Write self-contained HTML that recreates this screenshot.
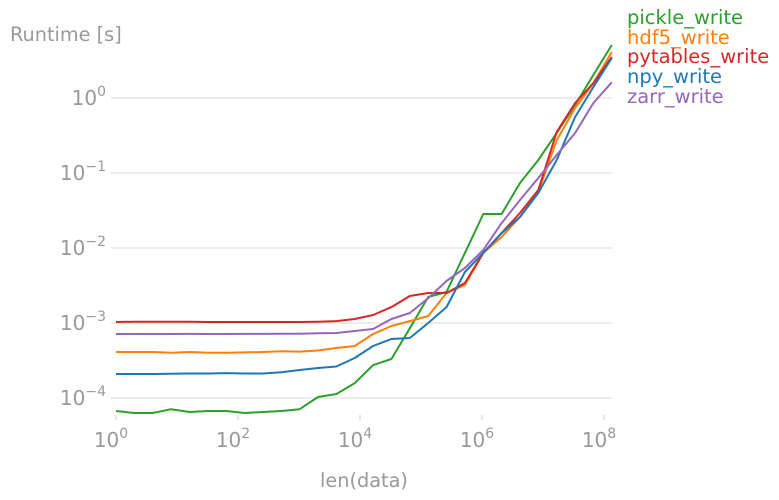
<!DOCTYPE html>
<html><head><meta charset="utf-8"><style>
html,body{margin:0;padding:0;background:#fff;}
svg{display:block;font-family:"DejaVu Sans","Liberation Sans",sans-serif;}
</style></head><body>
<svg id="chart" width="779" height="500">
<g id="grid"></g>
<g id="xticks"></g>
<g id="yticks"></g>
<g id="lines"></g>
<g id="legend"></g>
<text x="10" y="41" font-size="19.3" fill="#999">Runtime [s]</text>
<text x="364" y="487" font-size="19.3" fill="#999" text-anchor="middle">len(data)</text>
</svg>
<script>
const seriesNames = ["pickle_write","hdf5_write","pytables_write","npy_write","zarr_write"];
const seriesColors = ["#2ca02c","#ff7f0e","#d62728","#1f77b4","#9467bd"];
const nValues = [1,2,4,8,16,32,64,128,256,512,1024,2048,4096,8192,16384,32768,65536,131072,262144,524288,1048576,2097152,4194304,8388608,16777216,33554432,67108864,134217728];
const pickleWrite = [6.7e-5,6.3e-5,6.3e-5,7.1e-5,6.5e-5,6.7e-5,6.7e-5,6.3e-5,6.5e-5,6.7e-5,7.1e-5,1.03e-4,1.13e-4,1.58e-4,2.75e-4,3.31e-4,8.5e-4,2.22e-3,2.59e-3,8.6e-3,2.84e-2,2.84e-2,7.36e-2,0.149,0.341,0.806,2.03,5.09];
const hdf5Write = [4.1e-4,4.1e-4,4.1e-4,4.0e-4,4.1e-4,4.0e-4,4.0e-4,4.05e-4,4.1e-4,4.2e-4,4.15e-4,4.3e-4,4.64e-4,4.93e-4,7.13e-4,9.12e-4,1.06e-3,1.24e-3,2.51e-3,3.21e-3,8.6e-3,1.4e-2,2.59e-2,5.58e-2,0.275,0.736,1.58,4.1];
const pytablesWrite = [1.03e-3,1.04e-3,1.04e-3,1.04e-3,1.04e-3,1.03e-3,1.03e-3,1.03e-3,1.03e-3,1.03e-3,1.03e-3,1.04e-3,1.06e-3,1.13e-3,1.28e-3,1.63e-3,2.29e-3,2.51e-3,2.51e-3,3.41e-3,8.6e-3,1.58e-2,2.93e-2,5.93e-2,0.352,0.857,1.58,3.52];
const npyWrite = [2.09e-4,2.09e-4,2.09e-4,2.1e-4,2.12e-4,2.12e-4,2.15e-4,2.12e-4,2.12e-4,2.2e-4,2.36e-4,2.51e-4,2.63e-4,3.41e-4,4.93e-4,6.12e-4,6.31e-4,1.0e-3,1.63e-3,4.79e-3,8.6e-3,1.58e-2,2.59e-2,5.41e-2,0.149,0.558,1.4,3.41];
const zarrWrite = [7.13e-4,7.13e-4,7.13e-4,7.13e-4,7.15e-4,7.13e-4,7.13e-4,7.15e-4,7.15e-4,7.2e-4,7.2e-4,7.3e-4,7.36e-4,7.82e-4,8.32e-4,1.13e-3,1.36e-3,2.15e-3,3.63e-3,5.41e-3,9.4e-3,2.15e-2,4.37e-2,8.57e-2,0.174,0.341,0.857,1.62];
const xTickExps = [0,2,4,6,8];
const yTickExps = [0,-1,-2,-3,-4];

const NS="http://www.w3.org/2000/svg";
const allSeries=[pickleWrite,hdf5Write,pytablesWrite,npyWrite,zarrWrite];
function xs(v){return 116+Math.log10(v)*61.0;}
function ys(v){return 98-Math.log10(v)*75;}
function mk(tag,attrs,parent){const e=document.createElementNS(NS,tag);for(const k in attrs)e.setAttribute(k,attrs[k]);parent.appendChild(e);return e;}
const grid=document.getElementById('grid'),xt=document.getElementById('xticks'),yt=document.getElementById('yticks'),lines=document.getElementById('lines'),leg=document.getElementById('legend');
yTickExps.forEach(e=>{
  const y=ys(Math.pow(10,e));
  const g=mk('line',{x1:111,x2:612,y1:y,y2:y,stroke:'#e5e5e5','stroke-width':1.5},grid);
  
  
  const t=mk('text',{x:106,y:y+7,'font-size':20,fill:'#999','text-anchor':'end'},yt);
  
  
  t.appendChild(document.createTextNode('10'));
  const s=mk('tspan',{dy:-9,'font-size':14},t);s.textContent=String(e).replace('-','\u2212');
});
xTickExps.forEach(e=>{
  const x=xs(Math.pow(10,e));
  const tk=mk('line',{x1:x,x2:x,y1:415,y2:420,stroke:'#ccc','stroke-width':1},xt);
  
  
  const t=mk('text',{x:x-5,y:447,'font-size':20,fill:'#999','text-anchor':'middle'},xt);
  
  
  t.appendChild(document.createTextNode('10'));
  const s=mk('tspan',{dy:-9,'font-size':14},t);s.textContent=String(e);
});
allSeries.forEach((arr,i)=>{
  const pts=arr.map((v,j)=>xs(nValues[j]).toFixed(1)+','+ys(v).toFixed(1)).join(' ');
  const p=mk('polyline',{points:pts,fill:'none',stroke:seriesColors[i],'stroke-width':2,'stroke-linejoin':'round'},lines);
  
  
});
const legY=[18,38,57,77,97];
seriesNames.forEach((n,i)=>{
  const t=mk('text',{x:627,y:legY[i]+6,'font-size':19.5,fill:seriesColors[i]},leg);
  
  
  t.textContent=n;
});
</script>
</body></html>
